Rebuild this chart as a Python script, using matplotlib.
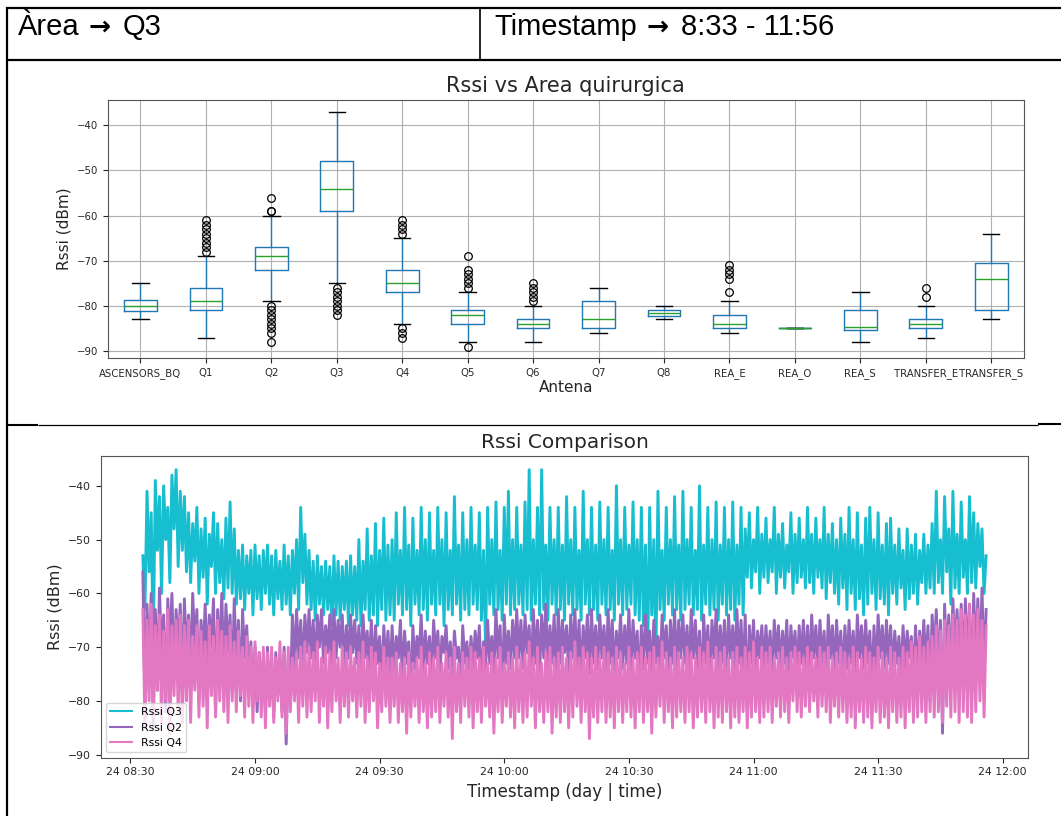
import matplotlib
matplotlib.use('Agg')
import matplotlib.pyplot as plt
import matplotlib.dates as mdates
from matplotlib.lines import Line2D
import pandas as pd

# 表头文字
header_left = ['Àrea', 'Q3']
header_right = ['Timestamp', '8:33 - 11:56']
arrow = '→'

# 箱线图数据（按天线）
antenas = ['ASCENSORS_BQ', 'Q1', 'Q2', 'Q3', 'Q4', 'Q5', 'Q6', 'Q7', 'Q8',
           'REA_E', 'REA_O', 'REA_S', 'TRANSFER_E', 'TRANSFER_S']
whis_lo = [-83, -87, -79, -75, -84, -88, -88, -86, -83, -86, -85, -88, -87, -83]
q1s = [-81.2, -81, -72, -59, -77, -84, -85, -85, -82.2, -85, -85, -85.3, -85, -81]
medians = [-80, -79, -69, -54, -75, -82, -84, -83, -81.5, -84, -85, -84.6, -84, -74]
q3s = [-78.6, -76, -67, -48, -72, -81, -83, -79, -80.8, -82, -85, -81, -83, -70.6]
whis_hi = [-75, -69, -60, -37, -65, -77, -80, -76, -80, -79, -85, -77, -80, -64]
fliers = [
    [],
    [-61, -62, -63, -64, -65, -66, -67, -68],
    [-56, -59, -59, -80, -81, -82, -83, -84, -85, -86, -88],
    [-76, -77, -78, -79, -80, -81, -82],
    [-61, -62, -63, -64, -85, -86, -87],
    [-69, -72, -73, -74, -75, -76, -89],
    [-75, -76, -77, -78, -79],
    [],
    [],
    [-71, -72, -73, -74, -77],
    [],
    [],
    [-76, -78],
    [],
]

# 时间序列（每30秒一个点，从 08:33 开始）
t_start = '2021-05-24 08:33'
rssi_q3 = [
    -53, -63, -41, -56, -45, -70, -39, -52, -42, -60, -40, -50, -44, -58, -38, -48, -37, -55, -41, -52,
    -42, -56, -45, -58, -47, -54, -44, -60, -48, -57, -46, -62, -49, -55, -45, -60, -47, -58, -50, -61,
    -46, -59, -43, -60, -48, -62, -52, -61, -51, -63, -53, -60, -52, -64, -51, -61, -53, -63, -52, -60,
    -51, -62, -53, -64, -52, -61, -54, -63, -51, -62, -53, -64, -52, -60, -50, -63, -44, -58, -49, -62,
    -52, -63, -54, -65, -53, -62, -55, -64, -54, -63, -55, -66, -53, -64, -54, -65, -55, -63, -54, -66,
    -53, -64, -55, -65, -50, -66, -54, -63, -48, -65, -53, -64, -47, -66, -52, -63, -46, -65, -51, -64,
    -50, -65, -45, -62, -52, -64, -44, -63, -51, -66, -46, -62, -52, -64, -44, -63, -50, -65, -45, -62,
    -52, -64, -44, -62, -50, -66, -45, -63, -52, -64, -42, -62, -51, -65, -45, -63, -50, -64, -44, -62,
    -51, -63, -45, -65, -52, -70, -44, -62, -50, -64, -43, -63, -52, -65, -44, -62, -41, -64, -50, -63,
    -44, -62, -51, -64, -43, -63, -37, -65, -50, -62, -44, -64, -37, -63, -51, -65, -44, -62, -50, -64,
    -44, -63, -51, -65, -42, -62, -50, -64, -44, -63, -52, -65, -41, -62, -50, -64, -44, -63, -51, -65,
    -43, -62, -50, -64, -44, -63, -52, -65, -40, -62, -50, -64, -44, -63, -51, -62, -43, -64, -50, -65,
    -44, -66, -51, -73, -44, -64, -50, -72, -41, -63, -52, -65, -44, -62, -50, -64, -42, -63, -51, -65,
    -41, -63, -50, -62, -44, -64, -52, -63, -40, -65, -51, -62, -44, -64, -50, -63, -43, -65, -51, -62,
    -44, -64, -50, -63, -43, -65, -51, -62, -44, -64, -48, -57, -45, -59, -50, -56, -44, -60, -49, -57,
    -46, -58, -50, -56, -44, -60, -49, -57, -47, -59, -51, -56, -45, -60, -49, -58, -46, -57, -50, -59,
    -44, -58, -49, -60, -46, -57, -50, -59, -44, -61, -49, -58, -47, -60, -50, -62, -46, -59, -49, -63,
    -44, -60, -50, -63, -45, -61, -51, -64, -46, -62, -44, -60, -50, -63, -45, -61, -51, -62, -47, -64,
    -46, -60, -51, -62, -48, -59, -52, -63, -48, -61, -51, -60, -49, -62, -52, -58, -49, -60, -51, -59,
    -47, -60, -41, -58, -50, -60, -42, -56, -48, -62, -41, -59, -49, -60, -43, -57, -50, -60, -42, -58,
    -45, -59, -47, -55, -48, -60, -53,
]
rssi_q2 = [
    -56, -80, -62, -75, -60, -85, -63, -78, -59, -72, -64, -82, -61, -70, -60, -76, -63, -71, -62, -78,
    -61, -72, -64, -75, -60, -70, -63, -80, -65, -72, -62, -74, -64, -70, -61, -82, -63, -73, -60, -76,
    -62, -71, -64, -78, -61, -74, -65, -80, -63, -72, -66, -76, -69, -80, -70, -82, -71, -78, -72, -82,
    -70, -80, -72, -83, -71, -79, -73, -82, -70, -88, -72, -80, -64, -74, -63, -72, -65, -75, -64, -71,
    -63, -72, -65, -74, -64, -70, -63, -73, -66, -71, -64, -75, -63, -72, -65, -70, -64, -74, -66, -72,
    -64, -71, -65, -73, -66, -75, -64, -72, -67, -74, -65, -76, -66, -73, -68, -78, -66, -74, -67, -76,
    -66, -75, -68, -72, -65, -77, -67, -73, -69, -80, -66, -74, -68, -72, -64, -75, -67, -73, -68, -76,
    -65, -72, -67, -75, -68, -71, -66, -74, -69, -76, -67, -72, -70, -78, -66, -73, -69, -75, -68, -74,
    -67, -72, -66, -78, -69, -74, -65, -73, -68, -75, -63, -72, -66, -80, -64, -73, -67, -74, -65, -72,
    -63, -72, -65, -74, -64, -71, -66, -76, -63, -73, -65, -75, -64, -72, -62, -74, -66, -73, -64, -76,
    -63, -73, -65, -71, -66, -75, -64, -72, -63, -74, -65, -77, -66, -72, -64, -75, -63, -73, -66, -74,
    -64, -72, -66, -75, -63, -73, -65, -76, -67, -72, -64, -74, -66, -73, -63, -75, -65, -72, -67, -78,
    -66, -74, -64, -72, -67, -76, -65, -73, -68, -75, -64, -72, -66, -77, -65, -73, -63, -75, -65, -72,
    -64, -73, -66, -75, -63, -72, -65, -74, -67, -80, -64, -73, -66, -76, -65, -72, -63, -74, -66, -73,
    -65, -75, -64, -72, -66, -74, -63, -73, -65, -76, -64, -82, -66, -73, -65, -75, -67, -72, -66, -74,
    -66, -73, -67, -75, -65, -72, -66, -74, -67, -73, -65, -76, -66, -72, -67, -75, -66, -73, -65, -74,
    -66, -75, -64, -72, -66, -74, -65, -73, -67, -77, -64, -72, -66, -75, -65, -73, -67, -76, -66, -74,
    -65, -73, -67, -76, -64, -72, -66, -74, -65, -73, -67, -78, -66, -75, -64, -72, -66, -74, -65, -73,
    -66, -75, -67, -73, -68, -76, -66, -74, -67, -72, -68, -77, -66, -75, -67, -73, -65, -74, -66, -80,
    -64, -72, -63, -75, -65, -86, -62, -73, -64, -76, -61, -72, -63, -74, -62, -75, -61, -73, -62, -80,
    -60, -72, -61, -74, -59, -75, -63,
]
rssi_q4 = [
    -63, -85, -65, -80, -62, -83, -66, -78, -64, -84, -67, -80, -63, -86, -66, -79, -65, -82, -64, -84,
    -66, -80, -65, -84, -68, -78, -66, -83, -67, -81, -69, -85, -66, -79, -68, -83, -65, -80, -67, -82,
    -68, -84, -66, -80, -69, -82, -67, -79, -70, -83, -68, -81, -70, -84, -69, -80, -71, -83, -70, -85,
    -71, -81, -70, -84, -72, -80, -69, -83, -71, -86, -70, -82, -72, -80, -71, -84, -70, -81, -69, -83,
    -70, -82, -71, -80, -69, -84, -72, -81, -70, -85, -71, -82, -69, -80, -72, -84, -70, -81, -71, -83,
    -70, -80, -72, -83, -71, -81, -69, -84, -72, -82, -70, -80, -71, -85, -73, -82, -70, -81, -72, -84,
    -72, -81, -71, -84, -73, -82, -72, -86, -71, -83, -73, -81, -72, -84, -70, -82, -73, -85, -71, -83,
    -72, -82, -70, -84, -73, -81, -71, -83, -72, -87, -70, -82, -73, -84, -71, -81, -72, -83, -70, -85,
    -71, -82, -72, -84, -70, -81, -73, -83, -71, -86, -72, -82, -70, -84, -73, -81, -71, -83, -72, -85,
    -70, -82, -72, -84, -71, -83, -69, -81, -72, -85, -70, -82, -73, -84, -71, -82, -70, -86, -72, -83,
    -71, -84, -70, -82, -72, -85, -71, -83, -69, -81, -72, -84, -70, -82, -71, -87, -72, -83, -70, -84,
    -72, -82, -70, -84, -71, -83, -72, -85, -70, -82, -71, -84, -73, -82, -70, -83, -72, -85, -71, -82,
    -70, -84, -72, -82, -71, -86, -70, -83, -72, -81, -69, -84, -71, -82, -72, -85, -70, -83, -71, -82,
    -72, -84, -70, -82, -71, -85, -72, -83, -70, -82, -71, -84, -69, -82, -72, -85, -70, -83, -71, -84,
    -70, -82, -72, -85, -71, -83, -70, -84, -72, -82, -70, -85, -71, -83, -69, -82, -72, -84, -70, -83,
    -71, -82, -70, -84, -72, -81, -71, -83, -70, -82, -72, -84, -71, -80, -70, -82, -71, -83, -72, -81,
    -70, -82, -71, -80, -72, -83, -70, -81, -71, -82, -70, -84, -72, -81, -71, -83, -70, -82, -71, -84,
    -72, -83, -70, -85, -71, -82, -72, -84, -70, -83, -71, -85, -72, -82, -70, -84, -71, -83, -72, -85,
    -70, -82, -71, -84, -72, -83, -70, -85, -71, -82, -69, -84, -70, -83, -68, -82, -70, -84, -69, -82,
    -68, -83, -66, -82, -67, -84, -65, -81, -66, -83, -64, -82, -65, -84, -63, -82, -64, -83, -62, -84,
    -64, -82, -63, -80, -65, -83, -66,
]

W, H = 1061, 816
fig = plt.figure(figsize=(W / 100, H / 100), dpi=100)


def fx(px):
    return px / W


def fy(py):
    return 1 - py / H


# 表格边框
def hline(y, x0, x1, lw):
    fig.add_artist(Line2D([fx(x0), fx(x1)], [fy(y), fy(y)], transform=fig.transFigure,
                          color='black', lw=lw, solid_capstyle='butt'))


def vline(x, y0, y1, lw):
    fig.add_artist(Line2D([fx(x), fx(x)], [fy(y0), fy(y1)], transform=fig.transFigure,
                          color='black', lw=lw, solid_capstyle='butt'))


hline(7.5, 6, W, 1.6)
hline(60, 6, W, 1.6)
vline(7, 6.5, H, 1.6)
vline(480, 7.5, 60, 1.2)
hline(425, 7, 38, 1.5)
hline(425, 38, 1038, 0.9)
hline(424, 1038, W, 1.5)

# 表头（文字 + 粗箭头）
hfont = ['Liberation Sans', 'DejaVu Sans']
afont = 'DejaVu Sans'
base_y = fy(34.7)
fig.text(fx(18), base_y, header_left[0], family=hfont, fontsize=21, va='baseline', ha='left')
fig.text(fx(89), base_y, arrow, family=afont, fontweight='bold', fontsize=19, va='baseline', ha='left')
fig.text(fx(123), base_y, header_left[1], family=hfont, fontsize=21, va='baseline', ha='left')
fig.text(fx(494), base_y, header_right[0], family=hfont, fontsize=21, va='baseline', ha='left')
fig.text(fx(647), base_y, arrow, family=afont, fontweight='bold', fontsize=19, va='baseline', ha='left')
fig.text(fx(681), base_y, header_right[1], family=hfont, fontsize=21, va='baseline', ha='left')

spine_col = '#555555'
txt_col = '#262626'

# 上图：箱线图
ax1 = fig.add_axes([fx(107.7), fy(358.3), fx(1024) - fx(107.7), fy(100) - fy(358.3)])
stats = []
for i, name in enumerate(antenas):
    stats.append(dict(label=name, whislo=whis_lo[i], q1=q1s[i], med=medians[i],
                      q3=q3s[i], whishi=whis_hi[i], fliers=fliers[i]))
ax1.bxp(stats, positions=range(1, len(antenas) + 1), widths=0.5,
        boxprops=dict(color='#1f77b4', lw=1.0),
        whiskerprops=dict(color='#1f77b4', lw=1.0),
        capprops=dict(color='black', lw=1.0),
        medianprops=dict(color='#2ca02c', lw=1.0),
        flierprops=dict(marker='o', markersize=5.5, markerfacecolor='none',
                        markeredgecolor='black', markeredgewidth=0.9))
ax1.set_xlim(0.5, len(antenas) + 0.5)
ax1.grid(True, color='#b0b0b0', lw=0.8)
ax1.set_axisbelow(True)
ax1.set_title('Rssi vs Area quirurgica', fontsize=15, color=txt_col)
ax1.set_xlabel('Antena', fontsize=11, color=txt_col, labelpad=1)
ax1.set_ylabel('Rssi (dBm)', fontsize=11, color=txt_col)
ax1.tick_params(labelsize=7.3, colors=txt_col)
for s in ax1.spines.values():
    s.set_color(spine_col)

# 下图：时间序列
ax2 = fig.add_axes([fx(100.7), fy(757.7), fx(1028.3) - fx(100.7), fy(456) - fy(757.7)])
series = [('Rssi Q3', rssi_q3, '#17becf'),
          ('Rssi Q2', rssi_q2, '#9467bd'),
          ('Rssi Q4', rssi_q4, '#e377c2')]
for label, vals, col in series:
    times = pd.date_range(t_start, periods=len(vals), freq='30s')
    ax2.plot(times, vals, color=col, lw=2.1, label=label)
ax2.xaxis.set_major_locator(mdates.MinuteLocator(byminute=[0, 30]))
ax2.xaxis.set_major_formatter(mdates.DateFormatter('%d %H:%M'))
ax2.set_title('Rssi Comparison', fontsize=14.5, color=txt_col)
ax2.set_xlabel('Timestamp (day | time)', fontsize=12, color=txt_col)
ax2.set_ylabel('Rssi (dBm)', fontsize=11.5, color=txt_col)
ax2.tick_params(labelsize=7.8, colors=txt_col)
leg = ax2.legend(loc='lower left', fontsize=7.8)
for h in leg.get_lines():
    h.set_linewidth(1.5)
for s in ax2.spines.values():
    s.set_color(spine_col)

fig.savefig('out.png', dpi=100)
